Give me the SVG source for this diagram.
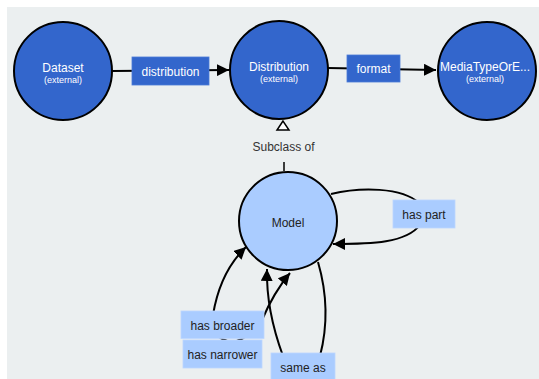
<svg xmlns="http://www.w3.org/2000/svg" width="539" height="379" viewBox="0 0 539 379">
<defs>
<style>
.bg{fill:#EBEFF0}
.ext{fill:#3366CC;stroke:#000;stroke-width:2}
.cls{fill:#AACCFF;stroke:#000;stroke-width:2}
.edge{fill:none;stroke:#000;stroke-width:2}
.dlab{fill:#3366CC;stroke:#4A7AD8;stroke-width:0.8}
.llab{fill:#AACCFF;stroke:#BCD6FF;stroke-width:0.8}
.wt{font-family:"Liberation Sans",Arial,sans-serif;font-size:12px;fill:#fff;text-anchor:middle}
.ws{font-family:"Liberation Sans",Arial,sans-serif;font-size:9px;fill:#fff;text-anchor:middle}
.dt{font-family:"Liberation Sans",Arial,sans-serif;font-size:12px;fill:#222;text-anchor:middle}
.st{font-family:"Liberation Sans",Arial,sans-serif;font-size:12px;fill:#333;text-anchor:middle}
</style>
<marker id="arr" markerUnits="userSpaceOnUse" markerWidth="12" markerHeight="12" refX="12" refY="6" orient="auto" viewBox="0 0 12 12">
<path d="M0,0 L12,6 L0,12 z" fill="#000"/>
</marker>
</defs>
<rect x="0" y="0" width="539" height="379" fill="#fff"/>
<rect class="bg" x="7" y="7" width="532" height="372"/>

<g id="connectors">
<path class="edge" d="M112,71 L229,70" marker-end="url(#arr)"/>
<path class="edge" d="M328,68 L436,70" marker-end="url(#arr)"/>
<path class="edge" d="M331,194 C360,187 402,187 419,203"/>
<path class="edge" d="M420,225 C406,243 372,244 333,244" marker-end="url(#arr)"/>
<path class="edge" d="M213,315 Q220,272 246,247" marker-end="url(#arr)"/>
<path class="edge" d="M262,320 Q274,292 290,273" marker-end="url(#arr)"/>
<path class="edge" d="M214,333 Q232,350 250,333"/>
<path class="edge" d="M318,262 Q332,310 320,356"/>
<path class="edge" d="M283,356 Q266,310 267,269" marker-end="url(#arr)"/>
<line x1="284" y1="162" x2="284" y2="171" stroke="#000" stroke-width="1.5"/>
<path d="M283,121 L277,130 L289,130 z" fill="#fff" stroke="#000" stroke-width="1.5"/>
</g>

<g id="node-dataset">
<circle class="ext" cx="63" cy="71" r="49"/>
<text class="wt" x="63" y="72">Dataset</text>
<text class="ws" x="63" y="83">(external)</text>
</g>
<g id="node-distribution">
<circle class="ext" cx="279" cy="70" r="49"/>
<text class="wt" x="279" y="71">Distribution</text>
<text class="ws" x="279" y="82">(external)</text>
</g>
<g id="node-mediatype">
<circle class="ext" cx="487" cy="71" r="49"/>
<text class="wt" x="485" y="71">MediaTypeOrE...</text>
<text class="ws" x="485" y="82">(external)</text>
</g>
<g id="node-model">
<circle class="cls" cx="288" cy="221" r="49"/>
<text class="dt" x="288" y="227">Model</text>
</g>

<g id="edge-labels">
<g id="label-distribution"><rect class="dlab" x="132" y="57" width="77" height="28"/><text class="wt" x="170.5" y="75.5">distribution</text></g>
<g id="label-format"><rect class="dlab" x="347" y="55" width="53" height="27"/><text class="wt" x="373.5" y="73">format</text></g>
<g id="label-subclass"><text class="st" x="283.5" y="151">Subclass of</text></g>
<g id="label-haspart"><rect class="llab" x="393" y="200" width="62" height="28"/><text class="dt" x="424" y="219">has part</text></g>
<g id="label-hasbroader"><rect class="llab" x="181" y="311" width="83" height="27.5"/><text class="dt" x="222.5" y="330">has broader</text></g>
<g id="label-hasnarrower"><rect class="llab" x="183" y="340" width="79" height="28"/><text class="dt" x="222.5" y="359">has narrower</text></g>
<g id="label-sameas"><rect class="llab" x="271" y="353" width="64" height="30"/><text class="dt" x="303" y="372">same as</text></g>
</g>
</svg>
